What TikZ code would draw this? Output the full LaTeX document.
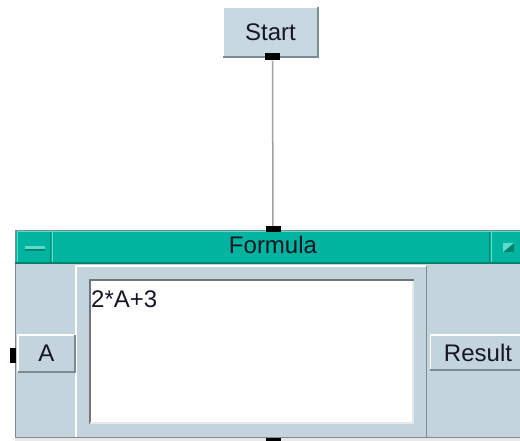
\documentclass[tikz,border=0pt]{standalone}
\usepackage{fontspec}
\setmainfont{Liberation Sans}

\definecolor{panel}{HTML}{C4D4DC}
\definecolor{startfill}{HTML}{C8D8E0}
\definecolor{teal}{HTML}{00B4A0}
\definecolor{tealhi}{HTML}{5ADCCB}
\definecolor{tealdk}{HTML}{00806F}
\definecolor{edge}{HTML}{7C8A92}
\definecolor{boxdk}{HTML}{6E767C}
\definecolor{boxlt}{HTML}{E8E8E8}
\definecolor{wiregrey}{HTML}{A0A0A0}
\definecolor{ink}{HTML}{161626}

\tikzset{
  btn/.style={fill=panel, inner sep=0pt, text=ink, font=\fontsize{24}{28}\selectfont},
  txt/.style={inner sep=0pt, text=ink, font=\fontsize{24}{28}\selectfont},
  pin/.style={fill=black, inner sep=0pt},
  wire/.style={draw=wiregrey, line width=1.5pt},
}

% raised look: light top/left, dark bottom/right
\newcommand{\bevelbox}[1]{
  \draw[white, line width=1.5pt] (#1.south west) -- (#1.north west) -- (#1.north east);
  \draw[edge, line width=1.5pt] (#1.north east) -- (#1.south east) -- (#1.south west);
}

\begin{document}
\begin{tikzpicture}[x=1pt,y=-1pt]
\useasboundingbox (0,0) rectangle (520,441);

% start button and its output pin
\node[btn, fill=startfill, minimum width=95pt, minimum height=50pt] (start) at (270.5,32) {Start};
\bevelbox{start}
\node[pin, minimum width=15pt, minimum height=7pt] (startout) at (272.5,57) {};

% formula object: frame and title bar
\fill[panel] (15,230) rectangle (524,438);
\fill[boxlt] (15,438) rectangle (524,441);
\fill[teal] (15,231) rectangle (524,263);
\draw[edge, line width=1pt] (15.5,438) -- (15.5,230.5) -- (524,230.5);
\draw[edge, line width=1pt] (15,437.5) -- (524,437.5);
\draw[tealdk, line width=1.5pt] (15,263) -- (524,263);
\draw[tealhi, line width=1pt] (17,232) -- (524,232);
\draw[tealhi, line width=1pt] (17,232) -- (17,262);
\draw[tealdk, line width=1pt] (50.5,232) -- (50.5,262);
\draw[tealhi, line width=1pt] (52.5,232) -- (52.5,262);
\draw[tealdk, line width=1pt] (489.5,232) -- (489.5,262);
\draw[tealhi, line width=1pt] (491.5,232) -- (491.5,262);
\fill[tealhi] (25,246) rectangle (45,249);
\fill[tealdk] (25,249) rectangle (45,251);
\fill[tealdk] (503,243) rectangle (514,252);
\fill[tealhi] (503,243) -- (514,243) -- (503,252) -- cycle;
\node[txt, anchor=base] (title) at (273,254) {Formula};

% edit panel with the expression box
\draw[white, line width=1.5pt] (76,437) -- (76,266) -- (426,266);
\draw[edge, line width=1.5pt] (426.5,266) -- (426.5,437);
\fill[white] (89,279) rectangle (414,424);
\draw[boxdk, line width=2pt] (90,424) -- (90,280) -- (414,280);
\draw[boxlt, line width=2pt] (90,423) -- (413,423) -- (413,281);
\node[txt, anchor=base west] (expr) at (91,307) {2*A+3};

% input and output terminals
\node[btn, minimum width=57pt, minimum height=37pt] (abtn) at (46.5,353.5) {A};
\bevelbox{abtn}
\node[btn, minimum width=95pt, minimum height=35pt] (rbtn) at (478,352.5) {Result};
\bevelbox{rbtn}

% pins
\node[pin, minimum width=6pt, minimum height=15pt] (ain) at (13,355) {};
\node[pin, minimum width=15pt, minimum height=6pt] (fin) at (273,229) {};
\node[pin, minimum width=15pt, minimum height=6pt] (fout) at (273,441) {};

\draw[wire] (startout) -- (fin);
\end{tikzpicture}
\end{document}
